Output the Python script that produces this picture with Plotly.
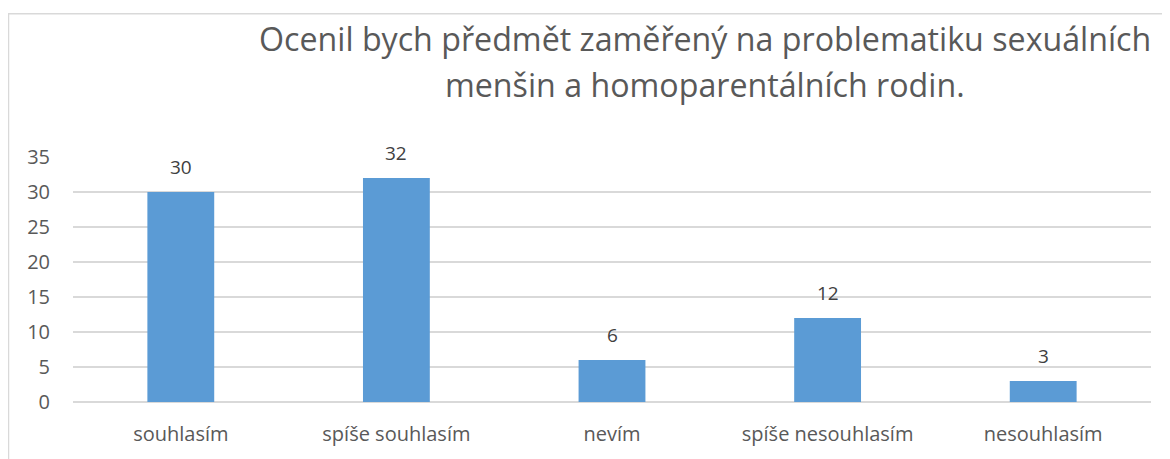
import plotly.graph_objects as go

categories = ["souhlasím", "spíše souhlasím", "nevím", "spíše nesouhlasím", "nesouhlasím"]
values = [30, 32, 6, 12, 3]
y_ticks = [0, 5, 10, 15, 20, 25, 30, 35]
title_lines = ["Ocenil bych předmět zaměřený na problematiku sexuálních",
               "menšin a homoparentálních rodin."]

FONT = "Open Sans"
GREY = "#595959"
BAR = "#5B9BD5"

OFF = 8  # page body margin
W, H = 1170 - OFF, 459 - OFF
L, R, T, B = 73 - OFF, 19, 157 - OFF, 55
pw, ph = W - L - R, H - T - B


def px_to_paper_y(ypix):
    return (H - B - ypix) / ph


def px_to_paper_x(xpix):
    return (xpix - L) / pw


fig = go.Figure()
fig.add_trace(go.Bar(x=categories, y=values, marker=dict(color=BAR, line=dict(width=0)),
                     hoverinfo="skip"))

for c, v in zip(categories, values):
    fig.add_annotation(x=c, y=v, text=str(v), showarrow=False, yanchor="bottom",
                       yshift=10, font=dict(family=FONT, size=19, color="#404040"))

for i, line in enumerate(title_lines):
    fig.add_annotation(xref="paper", yref="paper", x=px_to_paper_x(705 - OFF),
                       y=px_to_paper_y(38 - OFF + 46 * i), text=line, showarrow=False,
                       xanchor="center", yanchor="middle",
                       font=dict(family=FONT, size=32.2, color=GREY))

fig.add_shape(type="rect", xref="paper", yref="paper",
              x0=px_to_paper_x(0.5), x1=px_to_paper_x(W + 20),
              y0=px_to_paper_y(4.5), y1=px_to_paper_y(H + 20),
              line=dict(color="#d9d9d9", width=1.5), fillcolor="rgba(0,0,0,0)", layer="below")

fig.update_layout(
    width=W, height=H,
    margin=dict(l=L, r=R, t=T, b=B),
    paper_bgcolor="white", plot_bgcolor="white",
    bargap=0.69,
    showlegend=False,
    font=dict(family=FONT, color=GREY),
    xaxis=dict(showgrid=False, showline=False, ticks="", tickfont=dict(size=20, color=GREY),
               ticklabelstandoff=18),
    yaxis=dict(range=[0, 35], tickvals=y_ticks, showgrid=True, gridcolor="#d9d9d9", gridwidth=1.5,
               zeroline=True, zerolinecolor="#d9d9d9", zerolinewidth=1.5,
               showline=False, ticks="", tickfont=dict(size=20, color=GREY),
               ticklabelstandoff=22),
)

fig.write_html("out.html")
